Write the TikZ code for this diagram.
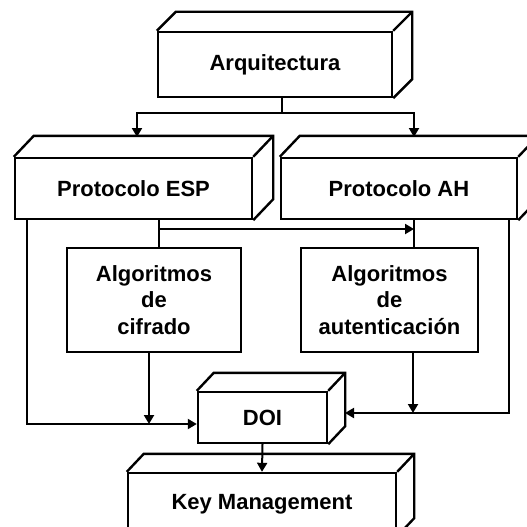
\documentclass[tikz,border=0pt]{standalone}
\usepackage{fontspec}
\setmainfont{Liberation Sans}
\usetikzlibrary{calc,arrows.meta}

% draws the top and right faces of a box whose front face is node #1
\newcommand\cubefaces[3]{%
  \draw[boxline] (#1.north west) -- ++(#2,-#3) -| ($(#1.south east)+(#2,-#3)$) -- (#1.south east);
  \draw[boxline] (#1.north east) -- ++(#2,-#3);
}

\begin{document}
\begin{tikzpicture}[x=1pt,y=-1pt,
  boxline/.style={line width=2.4pt,line join=miter},
  front/.style={draw,boxline,fill=white,inner sep=0pt,align=center,
    font=\fontsize{22}{26.5}\selectfont\bfseries},
  conn/.style={line width=2pt},
  arr/.style={conn,-{Triangle[width=10pt,length=9pt]}}]
\useasboundingbox (0,0) rectangle (527,527);

% front faces
\node[front,minimum width=234pt,minimum height=65pt] (arq) at (275,64.5) {Arquitectura};
\node[front,minimum width=237pt,minimum height=61pt] (esp) at (133.5,188.5) {Protocolo ESP};
\node[front,minimum width=236pt,minimum height=61pt] (ah) at (399,188.5) {Protocolo AH};
\node[front,minimum width=174pt,minimum height=104pt] (cif) at (154,300) {Algoritmos\\de\\cifrado};
\node[front,minimum width=177pt,minimum height=104pt] (aut) at (389.5,300) {Algoritmos\\de\\autenticación};
\node[front,minimum width=129pt,minimum height=51pt] (doi) at (262.5,417.5) {DOI};
\node[front,minimum width=268pt,minimum height=62pt] (km) at (262,504) {Key Management};

% top and side faces
\cubefaces{arq}{19}{19}
\cubefaces{esp}{20}{21}
\cubefaces{ah}{20}{21}
\cubefaces{doi}{17}{18}
\cubefaces{km}{17}{18}

% junction points
\coordinate (split) at (282,113);
\coordinate (espin) at (137,137);
\coordinate (ahin) at (414,137);
\coordinate (espdown) at (159,229);
\coordinate (ahdown) at (414,229);
\coordinate (leftrun) at (27,424);
\coordinate (rightrun) at (509,413);
\coordinate (cifrun) at (149,424);
\coordinate (autrun) at (413,413);
\coordinate (doiside) at (345,413);

% Arquitectura to both protocols
\draw[conn] (arq.south -| split) -- (split);
\draw[arr] (split) -| (espin);
\draw[arr] (split) -| (ahin);

% protocols to their algorithm boxes
\draw[conn] (esp.south -| espdown) -- (cif.north -| espdown);
\draw[conn] (ah.south -| ahdown) -- (aut.north -| ahdown);
\draw[arr] (espdown) -- (ahdown);

% everything into DOI
\draw[arr] (esp.south -| leftrun) -- (leftrun) -- (doi.west |- leftrun);
\draw[arr] (cif.south -| cifrun) -- (cifrun);
\draw[arr] (ah.south -| rightrun) -- (rightrun) -- (doiside);
\draw[arr] (aut.south -| autrun) -- (autrun);

% DOI to Key Management
\draw[arr] (doi.south) -- (km.north);
\end{tikzpicture}
\end{document}
